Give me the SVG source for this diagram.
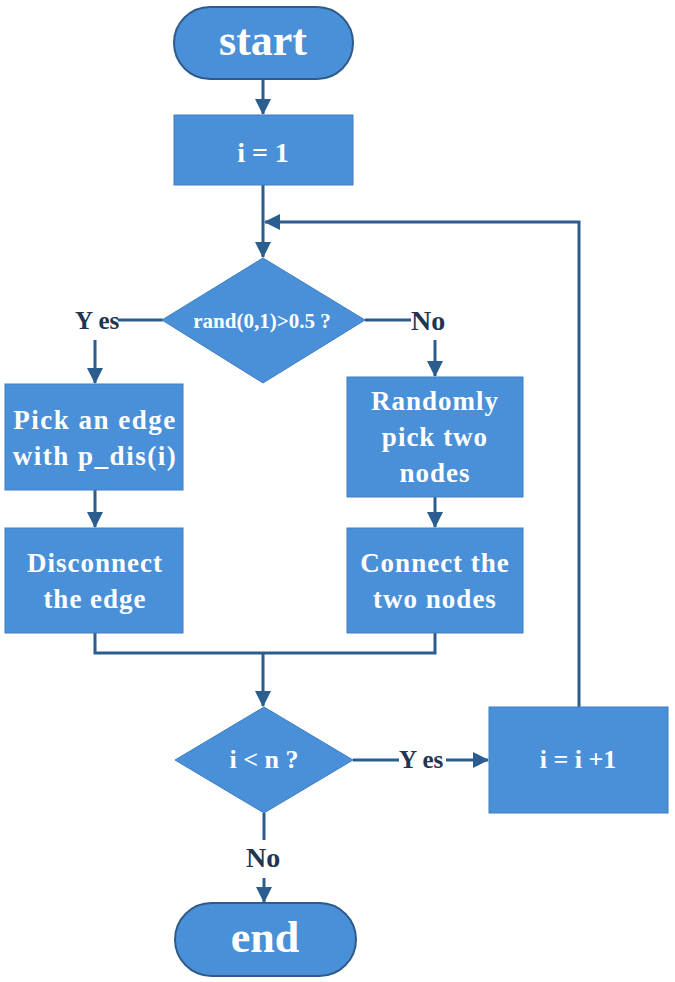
<svg xmlns="http://www.w3.org/2000/svg" width="675" height="982" viewBox="0 0 675 982">
<defs>
<style>
.shape{fill:#4a90d9;stroke:#3d7fc2;stroke-width:1}
.pill{fill:#4a90d9;stroke:#2e5b8a;stroke-width:2}
.t{font-family:"Liberation Serif",serif;font-weight:bold;fill:#ffffff;text-anchor:middle}
.lbl{font-family:"Liberation Serif",serif;font-weight:bold;fill:#1f3550;font-size:25px}
.no{font-size:28px}
.ln{fill:none;stroke:#2b5d8e;stroke-width:3}
</style>
<marker id="ah" markerUnits="userSpaceOnUse" markerWidth="16" markerHeight="16" viewBox="0 0 16 16" refX="15" refY="8" orient="auto">
<path d="M0,0 L16,8 L0,16 Z" fill="#2b5d8e"/>
</marker>
</defs>
<rect width="675" height="982" fill="#ffffff"/>
<g id="connectors">
<line class="ln" x1="263" y1="79" x2="263" y2="114" marker-end="url(#ah)"/>
<line class="ln" x1="263" y1="185" x2="263" y2="257" marker-end="url(#ah)"/>
<polyline class="ln" points="579,707 579,222 265,222" marker-end="url(#ah)"/>
<line class="ln" x1="118" y1="320" x2="163" y2="320"/>
<line class="ln" x1="365" y1="320" x2="411" y2="320"/>
<line class="ln" x1="95" y1="340" x2="95" y2="383" marker-end="url(#ah)"/>
<line class="ln" x1="435" y1="340" x2="435" y2="376" marker-end="url(#ah)"/>
<line class="ln" x1="95" y1="490" x2="95" y2="527" marker-end="url(#ah)"/>
<line class="ln" x1="435" y1="497" x2="435" y2="527" marker-end="url(#ah)"/>
<polyline class="ln" points="95,633 95,653 435,653 435,633"/>
<line class="ln" x1="263" y1="653" x2="263" y2="706" marker-end="url(#ah)"/>
<line class="ln" x1="353" y1="760" x2="399" y2="760"/>
<line class="ln" x1="446" y1="760" x2="488" y2="760" marker-end="url(#ah)"/>
<line class="ln" x1="264" y1="813" x2="264" y2="840"/>
<line class="ln" x1="264" y1="878" x2="264" y2="902" marker-end="url(#ah)"/>
<text class="lbl" x="75" y="329">Y es</text>
<text class="lbl no" x="411" y="330">No</text>
<text class="lbl" x="399" y="768">Y es</text>
<text class="lbl no" x="246" y="867">No</text>
</g>
<g id="start">
<rect class="pill" x="174" y="7" width="179" height="72" rx="36" ry="36"/>
<text class="t" x="263" y="55" font-size="44">start</text>
</g>
<g id="init">
<rect class="shape" x="174" y="115" width="179" height="70"/>
<text class="t" x="263" y="162" font-size="28">i = 1</text>
</g>
<g id="decision1">
<polygon class="shape" points="263,258 365,320 263,383 162,320"/>
<text class="t" x="262" y="328" font-size="21">rand(0,1)&gt;0.5 ?</text>
</g>
<g id="pick-edge">
<rect class="shape" x="5" y="384" width="178" height="106"/>
<text class="t" x="95" y="429" font-size="27" letter-spacing="1.5">Pick an edge</text>
<text class="t" x="95" y="465" font-size="27" letter-spacing="1.5">with p_dis(i)</text>
</g>
<g id="disconnect">
<rect class="shape" x="5" y="528" width="178" height="105"/>
<text class="t" x="95" y="572" font-size="27" letter-spacing="1">Disconnect</text>
<text class="t" x="95" y="608" font-size="27" letter-spacing="1">the edge</text>
</g>
<g id="pick-nodes">
<rect class="shape" x="347" y="377" width="176" height="120"/>
<text class="t" x="435" y="410" font-size="27" letter-spacing="1">Randomly</text>
<text class="t" x="435" y="446" font-size="27" letter-spacing="1">pick two</text>
<text class="t" x="435" y="482" font-size="27" letter-spacing="1">nodes</text>
</g>
<g id="connect">
<rect class="shape" x="347" y="528" width="176" height="105"/>
<text class="t" x="435" y="572" font-size="27" letter-spacing="1">Connect the</text>
<text class="t" x="435" y="608" font-size="27" letter-spacing="1">two nodes</text>
</g>
<g id="decision2">
<polygon class="shape" points="264,707 353,760 264,813 175,760"/>
<text class="t" x="264" y="768" font-size="26">i &lt; n ?</text>
</g>
<g id="increment">
<rect class="shape" x="489" y="707" width="179" height="106"/>
<text class="t" x="578" y="768" font-size="26">i = i +1</text>
</g>
<g id="end">
<rect class="pill" x="175" y="903" width="181" height="73" rx="36.5" ry="36.5"/>
<text class="t" x="265" y="952" font-size="44">end</text>
</g>
</svg>
